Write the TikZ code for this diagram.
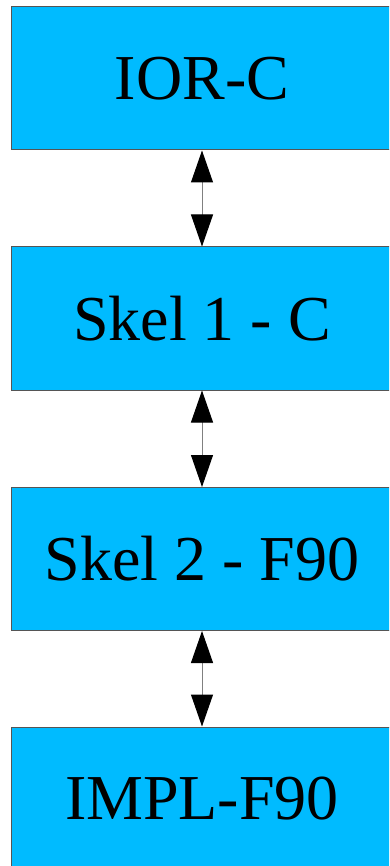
\documentclass[tikz,border=0pt]{standalone}
\usepackage{fontspec}
\newfontfamily\tms{LiberationSerif}[Extension=.ttf,UprightFont=*-Regular]
\usetikzlibrary{arrows.meta}
\definecolor{boxblue}{HTML}{00BBFF}
\definecolor{edgegray}{HTML}{555555}
\begin{document}
\begin{tikzpicture}[x=1pt,y=-1pt,
  blk/.style={draw=edgegray,line width=1pt,fill=boxblue,rectangle,
    minimum width=382pt,minimum height=143pt,inner sep=0pt,
    font=\tms\fontsize{64}{76}\selectfont},
  link/.style={draw=gray,line width=1pt,
    {Triangle[length=32pt,width=22pt,color=black]}-{Triangle[length=32pt,width=22pt,color=black]}}]
\useasboundingbox (0,0) rectangle (389,866);
\clip (0,0) rectangle (389,866);
\node[blk] (a) at (202,78.5) {IOR-C};
\node[blk] (b) at (202,318.5) {Skel 1 - C};
\node[blk] (c) at (202,559) {Skel 2 - F90};
\node[blk] (d) at (202,798.5) {IMPL-F90};
\draw[link] (a.south) -- (b.north);
\draw[link] (b.south) -- (c.north);
\draw[link] (c.south) -- (d.north);
\end{tikzpicture}
\end{document}
